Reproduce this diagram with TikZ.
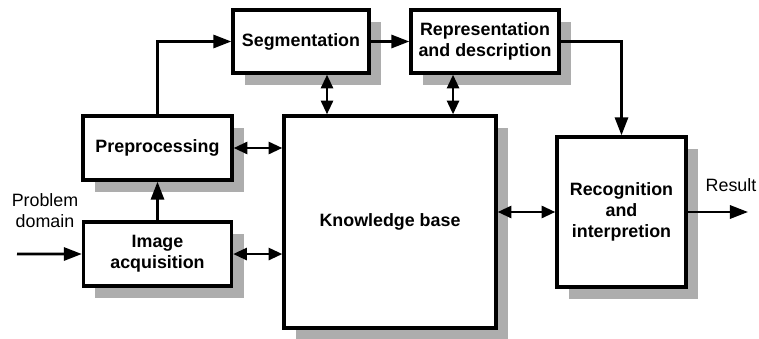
\documentclass[tikz,border=0pt]{standalone}
\usepackage{fontspec}
\setmainfont{Liberation Sans}
\usetikzlibrary{arrows.meta, shadows, positioning}

\begin{document}
\begin{tikzpicture}[x=0.025cm, y=0.025cm, node distance={4.6cm}, line width=1.8pt,
  >={Triangle[length=4.5mm,width=3.3mm]}]
  \tikzstyle{block}=[rectangle, draw, line width=2.4pt, fill=white, inner sep=0pt, align=center,
    font=\fontsize{12.7}{15}\selectfont\bfseries,
    drop shadow={shadow xshift=3mm, shadow yshift=-3mm, fill=black!32, opacity=1}]
  \tikzstyle{twoway}=[{Triangle[length=3.4mm,width=3mm]}-{Triangle[length=3.4mm,width=3mm]}]
  \tikzstyle{note}=[font=\fontsize{12.7}{15}\selectfont, align=center]
  \useasboundingbox (0,0) rectangle (759,338);

  \node[block, minimum width=3.4cm, minimum height=1.575cm] (1) at (301,296.5) {Segmentation};
  \node[block, minimum width=3.7cm, minimum height=1.575cm] (2) [right of=1] {Representation\\and description};
  \node[block, minimum width=3.725cm, minimum height=1.6cm] (3) at (157.5,190) {Preprocessing};
  \node[block, minimum width=3.7cm, minimum height=1.6cm] (4) [below of=3, node distance=2.65cm] {Image\\acquisition};
  \node[block, minimum width=5.3cm, minimum height=5.3cm] (5) at (390,116) {Knowledge base};
  \node[block, minimum width=3.225cm, minimum height=3.75cm] (6) at (621.5,126) {Recognition\\and\\interpretion};

  \node[note] (7) at (45,127) {Problem\\domain};
  \node[note] (8) at (731,153) {Result};
  \coordinate (in) at (17,84);
  \coordinate (out) at (748,126);

  \draw[->] (in) -- (4);
  \draw[twoway] (4.east) -- (4.east -| 5.west);
  \draw[->] (3.south |- 4.north) -- (3.south);
  \draw[twoway] (3.east) -- (3.east -| 5.west);
  \draw[->] (3.north) |- (1.west);
  \draw[->] (1) -- (2);
  \draw[twoway] ([xshift=6.5mm]1.south) -- ([xshift=6.5mm]1.south |- 5.north);
  \draw[twoway] ([xshift=-8mm]2.south) -- ([xshift=-8mm]2.south |- 5.north);
  \draw[->] (2.east) -| (6.north);
  \draw[twoway] (5.east |- 6.west) -- (6.west);
  \draw[->] (6.east) -- (out);
\end{tikzpicture}
\end{document}
